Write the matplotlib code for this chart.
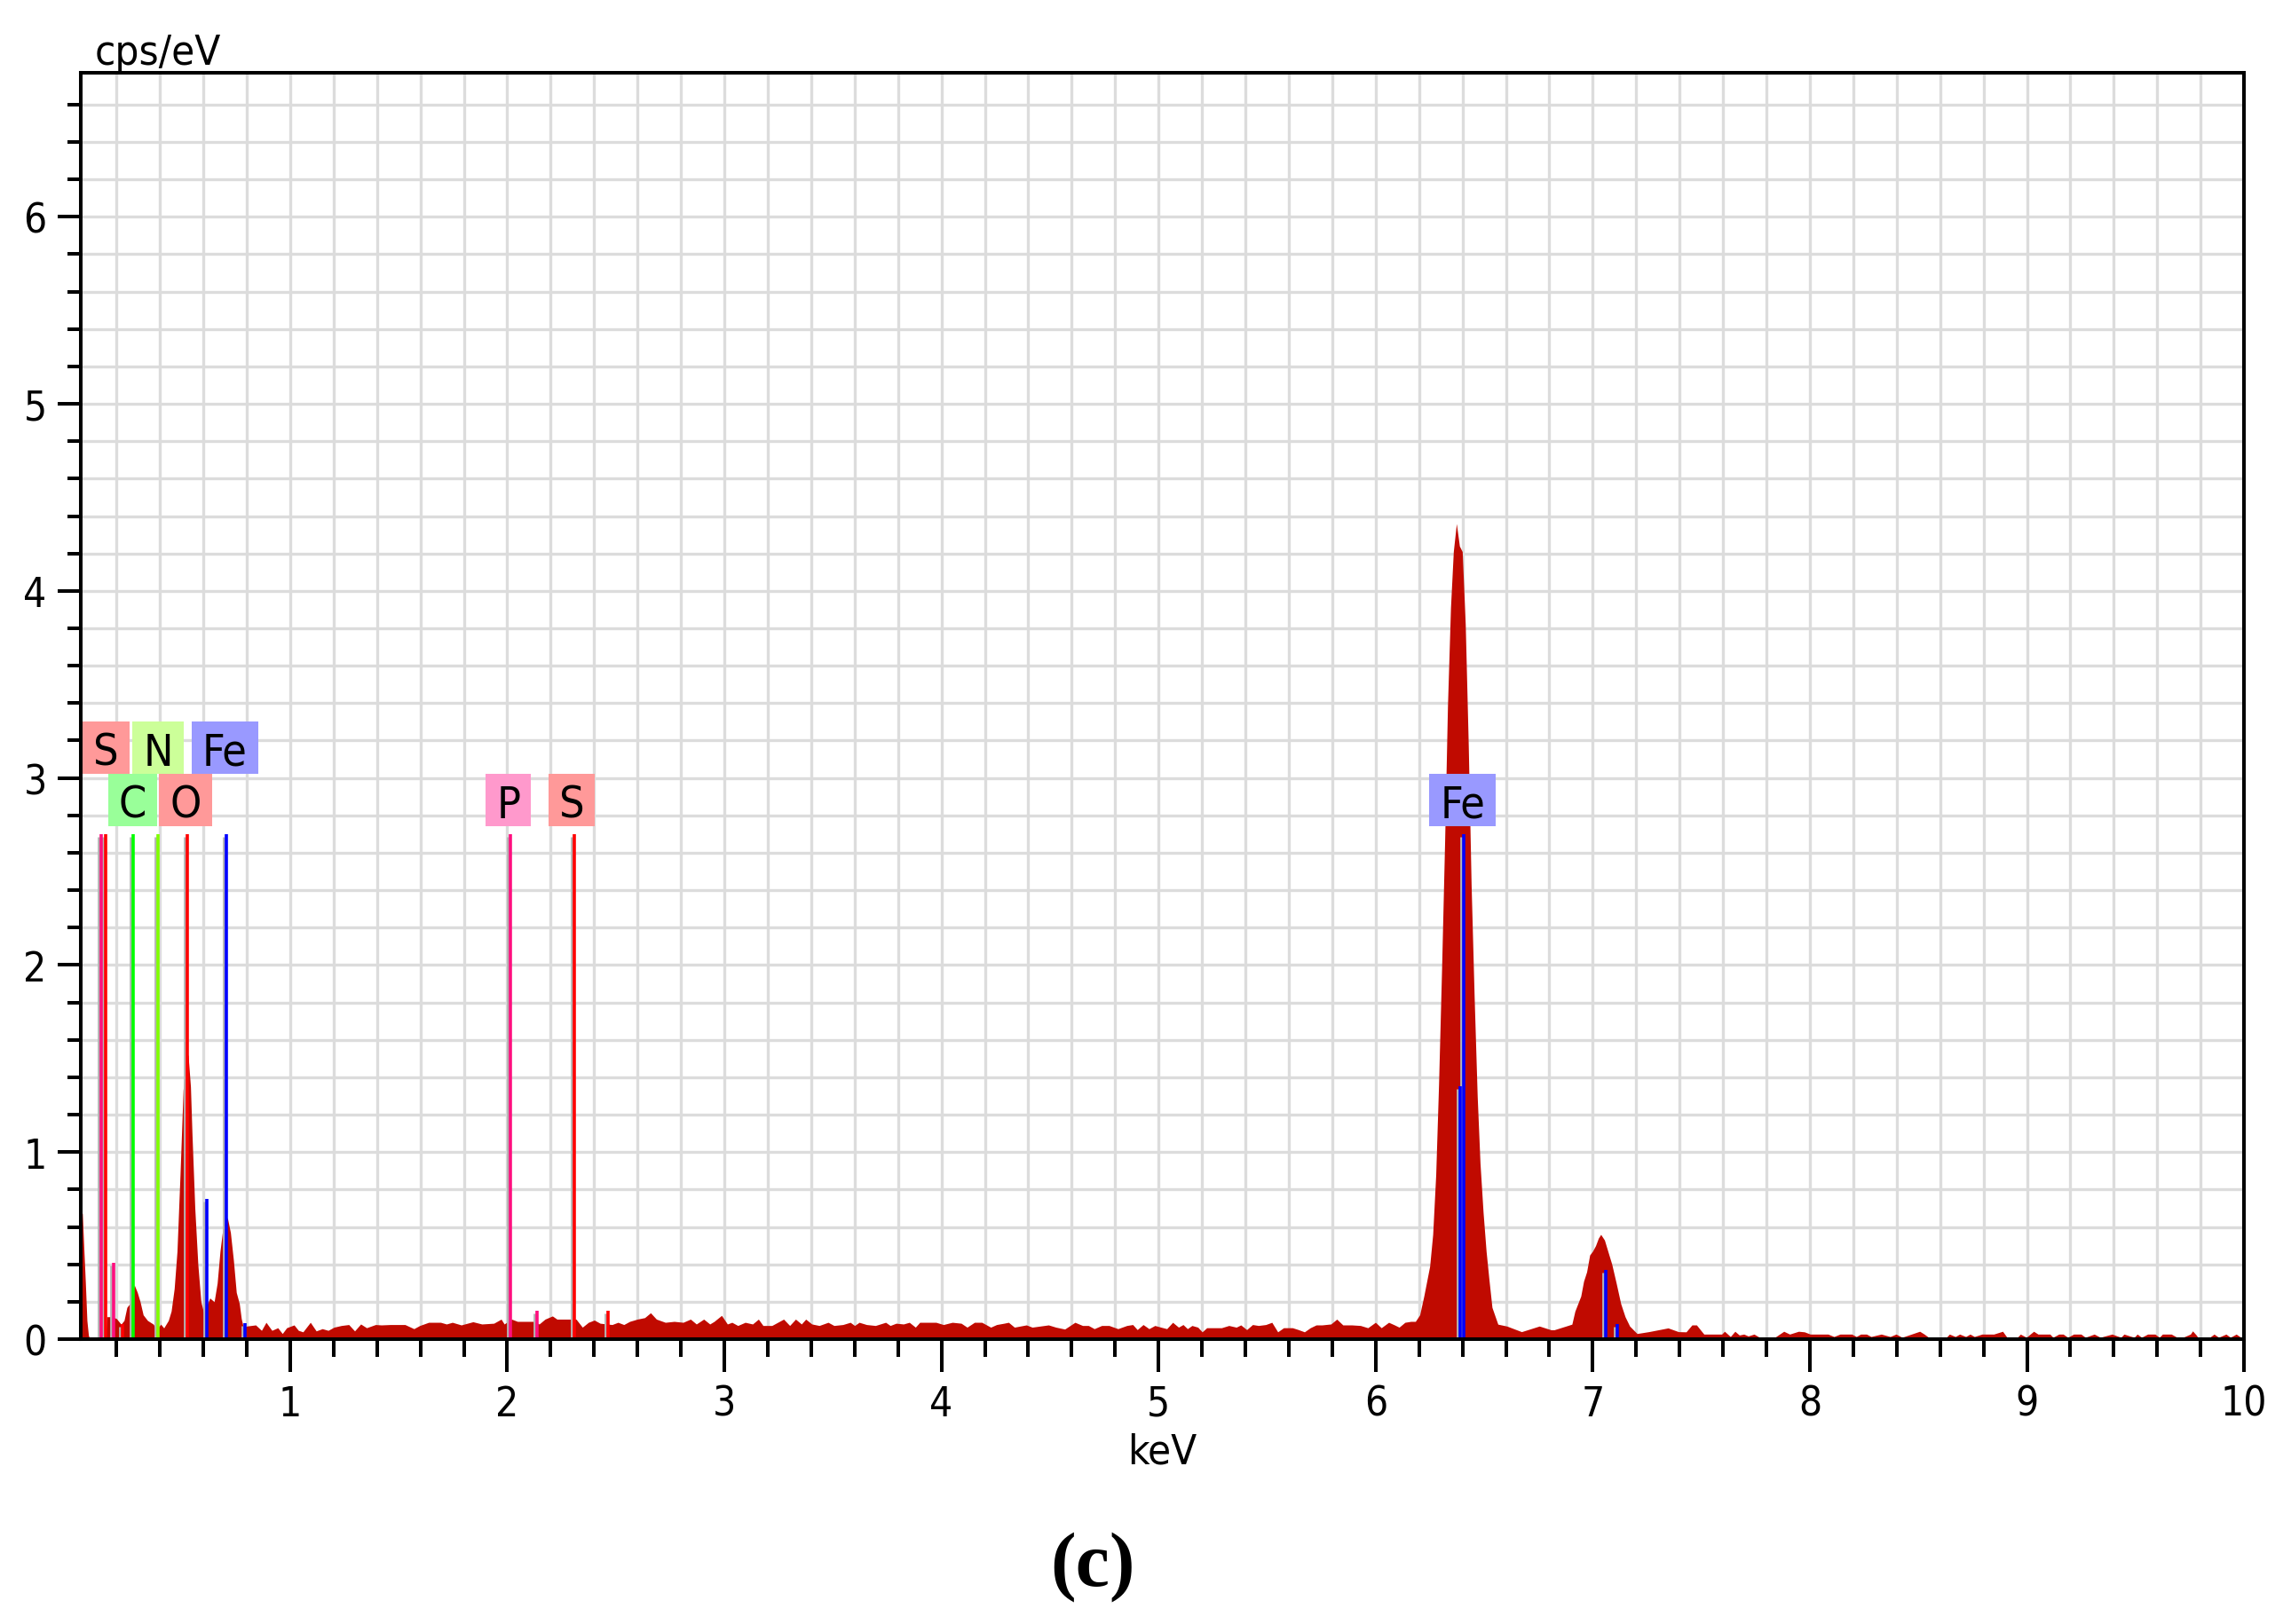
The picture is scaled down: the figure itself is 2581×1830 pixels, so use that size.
import matplotlib
matplotlib.use("Agg")
import matplotlib.pyplot as plt
from matplotlib.patches import Rectangle
from matplotlib.ticker import MultipleLocator
import matplotlib.transforms as mtransforms

plt.rcParams['font.family'] = ['DejaVu Sans']
plt.rcParams['font.stretch'] = 'condensed'

# EDS spectrum: energy (keV) and intensity (cps/eV)
energy_kev = [
    0.030, 0.043, 0.050, 0.057, 0.064, 0.071, 0.078, 0.150, 0.155, 0.180,
    0.200, 0.221, 0.235, 0.248, 0.268, 0.282, 0.296, 0.309, 0.323, 0.343,
    0.370, 0.384, 0.404, 0.418, 0.439, 0.452, 0.466, 0.479, 0.493, 0.507,
    0.520, 0.530, 0.541, 0.548, 0.561, 0.575, 0.589, 0.602, 0.630, 0.650,
    0.664, 0.677, 0.691, 0.711, 0.725, 0.739, 0.752, 0.766, 0.775, 0.785,
    0.800, 0.841, 0.868, 0.889, 0.916, 0.943, 0.964, 0.984, 1.018, 1.038,
    1.059, 1.093, 1.120, 1.148, 1.175, 1.202, 1.236, 1.270, 1.297, 1.325,
    1.352, 1.393, 1.420, 1.461, 1.502, 1.529, 1.570, 1.597, 1.638, 1.693,
    1.720, 1.747, 1.788, 1.842, 1.883, 1.938, 1.972, 1.986, 2.020, 2.047,
    2.080, 2.120, 2.147, 2.174, 2.208, 2.229, 2.280, 2.317, 2.346, 2.374,
    2.401, 2.428, 2.483, 2.510, 2.537, 2.564, 2.599, 2.633, 2.660, 2.687,
    2.728, 2.769, 2.810, 2.844, 2.871, 2.905, 2.933, 2.953, 2.987, 3.014,
    3.035, 3.062, 3.096, 3.130, 3.157, 3.178, 3.219, 3.273, 3.301, 3.328,
    3.355, 3.375, 3.403, 3.437, 3.478, 3.505, 3.546, 3.580, 3.600, 3.621,
    3.655, 3.696, 3.743, 3.764, 3.791, 3.825, 3.852, 3.880, 3.900, 3.941,
    3.975, 4.009, 4.050, 4.091, 4.118, 4.152, 4.186, 4.227, 4.254, 4.288,
    4.309, 4.336, 4.391, 4.418, 4.493, 4.527, 4.568, 4.615, 4.650, 4.677,
    4.704, 4.738, 4.772, 4.813, 4.854, 4.881, 4.902, 4.929, 4.956, 4.983,
    5.011, 5.038, 5.065, 5.092, 5.113, 5.133, 5.154, 5.181, 5.201, 5.222,
    5.263, 5.290, 5.324, 5.358, 5.379, 5.406, 5.433, 5.460, 5.494, 5.522,
    5.549, 5.576, 5.617, 5.644, 5.672, 5.699, 5.726, 5.753, 5.794, 5.821,
    5.849, 5.890, 5.930, 5.964, 5.999, 6.026, 6.060, 6.087, 6.108, 6.135,
    6.162, 6.183, 6.203, 6.222, 6.249, 6.263, 6.277, 6.290, 6.304, 6.318,
    6.331, 6.345, 6.358, 6.372, 6.386, 6.399, 6.413, 6.427, 6.440, 6.454,
    6.468, 6.481, 6.495, 6.509, 6.522, 6.536, 6.563, 6.604, 6.672, 6.754,
    6.808, 6.822, 6.877, 6.904, 6.918, 6.945, 6.958, 6.972, 6.986, 6.999,
    7.013, 7.026, 7.037, 7.054, 7.067, 7.088, 7.108, 7.129, 7.149, 7.170,
    7.204, 7.258, 7.347, 7.395, 7.430, 7.457, 7.478, 7.498, 7.512, 7.594,
    7.607, 7.634, 7.655, 7.675, 7.696, 7.716, 7.743, 7.771, 7.839, 7.880,
    7.907, 7.948, 7.975, 8.002, 8.084, 8.111, 8.139, 8.193, 8.214, 8.234,
    8.261, 8.282, 8.329, 8.370, 8.397, 8.425, 8.506, 8.527, 8.547, 8.629,
    8.643, 8.670, 8.690, 8.718, 8.738, 8.758, 8.793, 8.820, 8.847, 8.888,
    8.908, 8.956, 8.970, 8.997, 9.031, 9.051, 9.106, 9.120, 9.147, 9.167,
    9.188, 9.215, 9.249, 9.269, 9.310, 9.338, 9.392, 9.433, 9.447, 9.474,
    9.494, 9.508, 9.528, 9.556, 9.590, 9.610, 9.624, 9.665, 9.699, 9.719,
    9.753, 9.763, 9.780, 9.787, 9.842, 9.862, 9.883, 9.917, 9.937, 9.964,
    9.985, 10.000,
]
counts = [
    0.72, 0.67, 0.48, 0.30, 0.10, 0.02, 0.00, 0.00, 0.12, 0.12,
    0.11, 0.08, 0.10, 0.17, 0.20, 0.29, 0.25, 0.20, 0.13, 0.10,
    0.08, 0.05, 0.08, 0.06, 0.10, 0.15, 0.27, 0.47, 0.88, 1.33,
    1.50, 1.52, 1.35, 1.10, 0.70, 0.40, 0.20, 0.14, 0.22, 0.20,
    0.30, 0.47, 0.60, 0.65, 0.57, 0.42, 0.25, 0.19, 0.11, 0.06,
    0.07, 0.076, 0.047, 0.090, 0.047, 0.061, 0.030, 0.061, 0.076, 0.047,
    0.039, 0.090, 0.044, 0.056, 0.047, 0.064, 0.073, 0.078, 0.044, 0.081,
    0.061, 0.078, 0.076, 0.078, 0.078, 0.078, 0.056, 0.073, 0.090, 0.090,
    0.081, 0.090, 0.076, 0.093, 0.081, 0.085, 0.107, 0.081, 0.107, 0.095,
    0.095, 0.095, 0.081, 0.107, 0.124, 0.107, 0.107, 0.107, 0.064, 0.090,
    0.102, 0.085, 0.078, 0.090, 0.078, 0.095, 0.107, 0.115, 0.141, 0.107,
    0.090, 0.095, 0.090, 0.107, 0.081, 0.107, 0.081, 0.095, 0.127, 0.081,
    0.090, 0.073, 0.090, 0.081, 0.107, 0.073, 0.073, 0.107, 0.073, 0.107,
    0.081, 0.107, 0.081, 0.073, 0.090, 0.073, 0.078, 0.090, 0.073, 0.090,
    0.078, 0.073, 0.090, 0.073, 0.085, 0.081, 0.090, 0.064, 0.090, 0.090,
    0.090, 0.078, 0.090, 0.085, 0.064, 0.090, 0.090, 0.064, 0.078, 0.085,
    0.090, 0.064, 0.076, 0.064, 0.076, 0.064, 0.054, 0.090, 0.073, 0.073,
    0.056, 0.073, 0.073, 0.056, 0.073, 0.078, 0.051, 0.078, 0.056, 0.073,
    0.064, 0.056, 0.090, 0.064, 0.078, 0.056, 0.073, 0.064, 0.039, 0.061,
    0.061, 0.061, 0.073, 0.064, 0.076, 0.051, 0.078, 0.073, 0.078, 0.090,
    0.039, 0.061, 0.061, 0.051, 0.039, 0.061, 0.076, 0.076, 0.081, 0.107,
    0.076, 0.076, 0.073, 0.061, 0.090, 0.061, 0.090, 0.076, 0.064, 0.090,
    0.095, 0.095, 0.13, 0.23, 0.39, 0.56, 0.88, 1.36, 1.98, 2.66,
    3.38, 3.91, 4.21, 4.36, 4.24, 4.21, 3.82, 3.17, 2.43, 1.83,
    1.30, 0.94, 0.68, 0.47, 0.32, 0.17, 0.08, 0.07, 0.04, 0.07,
    0.05, 0.05, 0.07, 0.08, 0.15, 0.23, 0.31, 0.36, 0.45, 0.47,
    0.50, 0.54, 0.56, 0.53, 0.48, 0.40, 0.30, 0.19, 0.12, 0.07,
    0.03, 0.04, 0.06, 0.04, 0.039, 0.076, 0.076, 0.047, 0.027, 0.027,
    0.042, 0.014, 0.042, 0.022, 0.027, 0.017, 0.027, 0.008, 0.010, 0.042,
    0.027, 0.042, 0.039, 0.027, 0.027, 0.014, 0.027, 0.027, 0.014, 0.027,
    0.027, 0.014, 0.027, 0.014, 0.027, 0.010, 0.042, 0.027, 0.010, 0.010,
    0.027, 0.014, 0.027, 0.014, 0.027, 0.014, 0.027, 0.027, 0.027, 0.042,
    0.010, 0.010, 0.027, 0.010, 0.042, 0.027, 0.027, 0.010, 0.027, 0.027,
    0.010, 0.027, 0.027, 0.010, 0.027, 0.010, 0.027, 0.010, 0.027, 0.017,
    0.010, 0.027, 0.010, 0.027, 0.027, 0.010, 0.027, 0.027, 0.005, 0.010,
    0.027, 0.044, 0.022, 0.010, 0.010, 0.027, 0.010, 0.027, 0.010, 0.027,
    0.010, 0.010,
]

# Element marker lines: position (keV), height (cps/eV), colour
line_kev = [0.131, 0.151, 0.186, 0.226, 0.277, 0.392, 0.525, 0.615, 0.705, 0.792,
            2.013, 2.139, 2.307, 2.464, 6.391, 6.404, 7.058, 7.115]
line_height = [2.7, 2.7, 0.41, 0.08, 2.7, 2.7, 2.7, 0.75, 2.7, 0.085,
               2.7, 0.15, 2.7, 0.15, 1.35, 2.7, 0.37, 0.08]
line_color = ['#ff0f7f', '#ff0000', '#ff0f7f', '#ff0000', '#00ff00', '#80ff00',
              '#ff0000', '#0000ff', '#0000ff', '#0000ff', '#ff0f7f', '#ff0f7f',
              '#ff0000', '#ff0000', '#0000ff', '#0000ff', '#0000ff', '#0000ff']

# Element labels: text, centre (keV), row (1 = upper), box colour
label_text = ['S', 'N', 'Fe', 'C', 'O', 'P', 'S', 'Fe']
label_kev = [0.151, 0.392, 0.700, 0.275, 0.518, 2.005, 2.297, 6.400]
label_row = [1, 1, 1, 2, 2, 2, 2, 2]
label_color = ['#ff9999', '#ccff99', '#9999ff', '#99ff99', '#ff9999',
               '#ff99cc', '#ff9999', '#9999ff']

fig = plt.figure(figsize=(25.81, 18.31), dpi=100)
ax = fig.add_axes([0.0352, 0.1753, 0.9443, 0.7794])

ax.set_xlim(0.035, 10)
ax.set_ylim(0, 6.77)

# grid every 0.2 on both axes
ax.xaxis.set_major_locator(MultipleLocator(1))
ax.xaxis.set_minor_locator(MultipleLocator(0.2))
ax.yaxis.set_major_locator(MultipleLocator(1))
ax.yaxis.set_minor_locator(MultipleLocator(0.2))
ax.grid(True, which='both', color='#dcdcdc', linewidth=2.4, zorder=0)
ax.set_axisbelow(True)

ax.fill_between(energy_kev, 0, counts, color='#c00a00', linewidth=0, zorder=1)

# marker lines with a grey shadow just left of them
shadow = mtransforms.offset_copy(ax.transData, fig=fig, x=-3, y=-3, units='dots')
for xk, h, c in zip(line_kev, line_height, line_color):
    ax.plot([xk, xk], [0, h], color='#b4b4b4', linewidth=2.0, transform=shadow,
            zorder=2, solid_capstyle='butt')
    ax.plot([xk, xk], [0, h], color=c, linewidth=2.6, zorder=3, solid_capstyle='butt')

# tick styling
for side in ['left', 'right', 'top', 'bottom']:
    ax.spines[side].set_linewidth(2.9)
    ax.spines[side].set_zorder(6)
ax.tick_params(axis='x', which='major', direction='out', length=26.5, width=2.9,
               labelsize=33, pad=10)
ax.tick_params(axis='x', which='minor', direction='out', length=14.5, width=2.9)
ax.tick_params(axis='y', which='major', direction='out', length=18.5, width=2.9,
               labelsize=33, pad=9)
ax.tick_params(axis='y', which='minor', direction='out', length=11, width=2.9)
ax.set_xticks(range(1, 11))
ax.set_xticklabels([str(v) for v in range(1, 11)])
ax.set_yticks(range(0, 7))
ax.set_yticklabels([str(v) for v in range(0, 7)])

ax.set_xlabel('keV', fontsize=34, labelpad=6)
fig.text(0.0415, 0.9601, 'cps/eV', fontsize=34, ha='left', va='baseline')

# element label boxes, widths from the rendered text
fig.canvas.draw()
renderer = fig.canvas.get_renderer()
px_per_kev = ax.transData.transform((1, 0))[0] - ax.transData.transform((0, 0))[0]
row_bottom = {1: 3.02, 2: 2.74}
row_h = 0.28
for t, xk, r, c in zip(label_text, label_kev, label_row, label_color):
    txt = ax.text(xk, row_bottom[r] + row_h / 2, t, fontsize=36, ha='center',
                  va='center_baseline', zorder=5)
    w = txt.get_window_extent(renderer).width
    bw = (w + 24) / px_per_kev
    ax.add_patch(Rectangle((xk - bw / 2, row_bottom[r]), bw, row_h,
                           facecolor=c, edgecolor='none', zorder=4))

fig.text(0.4770, 0.0355, '(c)', fontsize=62, fontweight='bold',
         family='Liberation Serif', ha='center', va='center')

fig.savefig('out.png', dpi=100)
